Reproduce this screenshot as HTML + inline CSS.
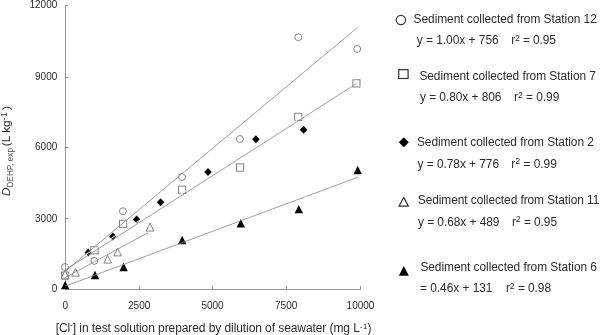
<!DOCTYPE html>
<html><head><meta charset="utf-8">
<style>
html,body{margin:0;padding:0;background:#fff;}
body{width:600px;height:335px;overflow:hidden;position:relative;}
svg{position:absolute;left:0;top:0;will-change:transform;}
text{font-family:"Liberation Sans",sans-serif;fill:#2b2b2b;}
</style></head>
<body>
<svg width="600" height="335" viewBox="0 0 600 335">
<defs>
  <circle id="mc" r="3.45" fill="none" stroke="#777" stroke-width="0.9"/>
  <rect id="ms" x="-3.6" y="-3.6" width="7.2" height="7.2" fill="#fff" stroke="#777" stroke-width="0.9"/>
  <path id="md" d="M0,-4 L3.8,0 L0,4 L-3.8,0 Z" fill="#000"/>
  <path id="mt" d="M0,-4 L3.8,3.9 L-3.8,3.9 Z" fill="#fff" stroke="#777" stroke-width="0.9"/>
  <path id="mf" d="M0,-4.2 L4.2,4.2 L-4.2,4.2 Z" fill="#000"/>
</defs>
<g stroke="#989898" stroke-width="1" fill="none">
  <line x1="65.5" y1="5" x2="65.5" y2="289.5"/>
  <line x1="65" y1="289.5" x2="361" y2="289.5"/>
  <line x1="65.5" y1="5.5" x2="68" y2="5.5"/>
  <line x1="65.5" y1="77.5" x2="68" y2="77.5"/>
  <line x1="65.5" y1="147.5" x2="68" y2="147.5"/>
  <line x1="65.5" y1="218.5" x2="68" y2="218.5"/>
  <line x1="139.5" y1="286" x2="139.5" y2="289.5"/>
  <line x1="212.5" y1="286" x2="212.5" y2="289.5"/>
  <line x1="286.5" y1="286" x2="286.5" y2="289.5"/>
  <line x1="360.5" y1="286" x2="360.5" y2="289.5"/>
</g>
<g>
  <use href="#mc" x="65" y="267"/>
  <use href="#mc" x="94.3" y="260.9"/>
  <use href="#mc" x="122.9" y="211.2"/>
  <use href="#mc" x="182" y="177"/>
  <use href="#mc" x="239.9" y="139"/>
  <use href="#mc" x="298.3" y="37.2"/>
  <use href="#mc" x="357.2" y="49"/>
</g>
<g>
  <use href="#md" x="88.3" y="252.4"/>
  <use href="#md" x="112.8" y="236.4"/>
  <use href="#md" x="136.6" y="219.6"/>
  <use href="#md" x="160.6" y="202.2"/>
  <use href="#md" x="208" y="172"/>
  <use href="#md" x="255.9" y="139.3"/>
  <use href="#md" x="303.6" y="129.7"/>
</g>
<g>
  <use href="#ms" x="65.1" y="275.6"/>
  <use href="#ms" x="94.5" y="250.3"/>
  <use href="#ms" x="123.1" y="223.8"/>
  <use href="#ms" x="182.1" y="189.7"/>
  <use href="#ms" x="240.1" y="167.5"/>
  <use href="#ms" x="298.3" y="116.9"/>
  <use href="#ms" x="356.4" y="83.4"/>
</g>
<g>
  <use href="#mt" x="65" y="274.3"/>
  <use href="#mt" x="75.5" y="272.3"/>
  <use href="#mt" x="107.6" y="259.2"/>
  <use href="#mt" x="117.6" y="252"/>
  <use href="#mt" x="150" y="227.2"/>
</g>
<g>
  <use href="#mf" x="65.2" y="285"/>
  <use href="#mf" x="95" y="275"/>
  <use href="#mf" x="123.6" y="267"/>
  <use href="#mf" x="182.2" y="240"/>
  <use href="#mf" x="240.8" y="223.3"/>
  <use href="#mf" x="298.8" y="209.1"/>
  <use href="#mf" x="357.7" y="170"/>
</g>
<line x1="65.3" y1="267.5" x2="303.6" y2="116" stroke="#fff" stroke-width="1"/>
<g stroke="#888" stroke-width="0.8" fill="none">
  <line x1="65.3" y1="271.2" x2="357.6" y2="27.4"/>
  <line x1="65.3" y1="269.9" x2="356.6" y2="83.5"/>
  <line x1="65.3" y1="277.5" x2="148" y2="232.7"/>
  <line x1="65.3" y1="286.2" x2="358" y2="177.1"/>
</g>
<text transform="translate(10.3,196) rotate(-90)" font-size="11.8" fill="#2b2b2b"><tspan font-style="italic">D</tspan><tspan font-size="8.2" dy="3.1" fill="#555">DEHP, exp</tspan><tspan dy="-3.1" dx="-1.4"> (L kg</tspan><tspan font-size="8.6" dy="-3">-</tspan><tspan font-size="8.6" dx="0.5">1</tspan><tspan dy="3" dx="2.1">)</tspan></text>
<circle cx="400.9" cy="20" r="4.65" fill="none" stroke="#333" stroke-width="1.2"/>
<rect x="398.7" y="69.7" width="9.4" height="8.8" fill="none" stroke="#333" stroke-width="1.2"/>
<path d="M403.8,137.3 L408.8,142.3 L403.8,147.2 L398.8,142.3 Z" fill="#000"/>
<path d="M403.7,197.4 L408.4,206.1 L399,206.1 Z" fill="none" stroke="#333" stroke-width="1.2"/>
<path d="M403.8,266.1 L408.9,275.7 L398.8,275.7 Z" fill="#000"/>

<text id="L1a" x="413.60" y="22.50" font-size="11.9" textLength="183.16" lengthAdjust="spacing">Sediment collected from Station 12</text>
<text id="L1b" x="416.65" y="43.70" font-size="11.9">y = 1.00x + 756</text>
<text id="L1c" x="511.25" y="43.70" font-size="11.9" textLength="44.68" lengthAdjust="spacing">r<tspan font-size="8.8" dy="-3.2">2</tspan><tspan dy="3.2"> = 0.95</tspan></text>
<text id="L2a" x="419.40" y="79.80" font-size="11.9" textLength="176.55" lengthAdjust="spacing">Sediment collected from Station 7</text>
<text id="L2b" x="420.00" y="100.80" font-size="11.9" textLength="81.48" lengthAdjust="spacing">y = 0.80x + 806</text>
<text id="L2c" x="513.95" y="100.80" font-size="11.9" textLength="45.38" lengthAdjust="spacing">r<tspan font-size="8.8" dy="-3.2">2</tspan><tspan dy="3.2"> = 0.99</tspan></text>
<text id="L3a" x="416.90" y="146.20" font-size="11.9" textLength="177.05" lengthAdjust="spacing">Sediment collected from Station 2</text>
<text id="L3b" x="417.50" y="167.50" font-size="11.9" textLength="81.58" lengthAdjust="spacing">y = 0.78x + 776</text>
<text id="L3c" x="511.25" y="167.50" font-size="11.9">r<tspan font-size="8.8" dy="-3.2">2</tspan><tspan dy="3.2"> = 0.99</tspan></text>
<text id="L4a" x="417.80" y="203.70" font-size="11.9" textLength="181.53" lengthAdjust="spacing">Sediment collected from Station 11</text>
<text id="L4b" x="418.00" y="225.50" font-size="11.9" textLength="81.48" lengthAdjust="spacing">y = 0.68x + 489</text>
<text id="L4c" x="511.95" y="225.50" font-size="11.9" textLength="45.08" lengthAdjust="spacing">r<tspan font-size="8.8" dy="-3.2">2</tspan><tspan dy="3.2"> = 0.95</tspan></text>
<text id="L5a" x="420.40" y="270.80" font-size="11.9" textLength="176.55" lengthAdjust="spacing">Sediment collected from Station 6</text>
<text id="L5b" x="420.00" y="292.30" font-size="11.9" textLength="72.48" lengthAdjust="spacing">= 0.46x + 131</text>
<text id="L5c" x="505.95" y="292.30" font-size="11.9" textLength="45.08" lengthAdjust="spacing">r<tspan font-size="8.8" dy="-3.2">2</tspan><tspan dy="3.2"> = 0.98</tspan></text>
<text id="Y12000" x="57.30" y="8.10" font-size="10" text-anchor="end" fill="#777">12000</text>
<text id="Y9000" x="57.30" y="79.80" font-size="10" text-anchor="end" fill="#777">9000</text>
<text id="Y6000" x="57.30" y="150.20" font-size="10" text-anchor="end" fill="#777">6000</text>
<text id="Y3000" x="57.30" y="222.10" font-size="10" text-anchor="end" fill="#777">3000</text>
<text id="Y0" x="57.30" y="292.00" font-size="10" text-anchor="end" fill="#777">0</text>
<text id="X0" x="65.40" y="308.60" font-size="10" text-anchor="middle" fill="#777">0</text>
<text id="X2500" x="139.20" y="308.60" font-size="10" text-anchor="middle" fill="#777">2500</text>
<text id="X5000" x="212.50" y="308.60" font-size="10" text-anchor="middle" fill="#777">5000</text>
<text id="X7500" x="286.20" y="308.60" font-size="10" text-anchor="middle" fill="#777">7500</text>
<text id="X10000" x="360.50" y="308.60" font-size="10" text-anchor="middle" fill="#777">10000</text>
<text id="XT" x="55.65" y="331.60" font-size="12" textLength="315.73" lengthAdjust="spacing">[Cl<tspan font-size="8.5" dy="-3.9">-</tspan><tspan dy="3.9">] in test solution prepared by dilution of seawater (mg L</tspan><tspan font-size="7.7" dy="-2.8">-</tspan><tspan font-size="7.7" dx="0.6">1</tspan><tspan dy="2.8" dx="0.3">)</tspan></text>
</svg>
</body></html>
